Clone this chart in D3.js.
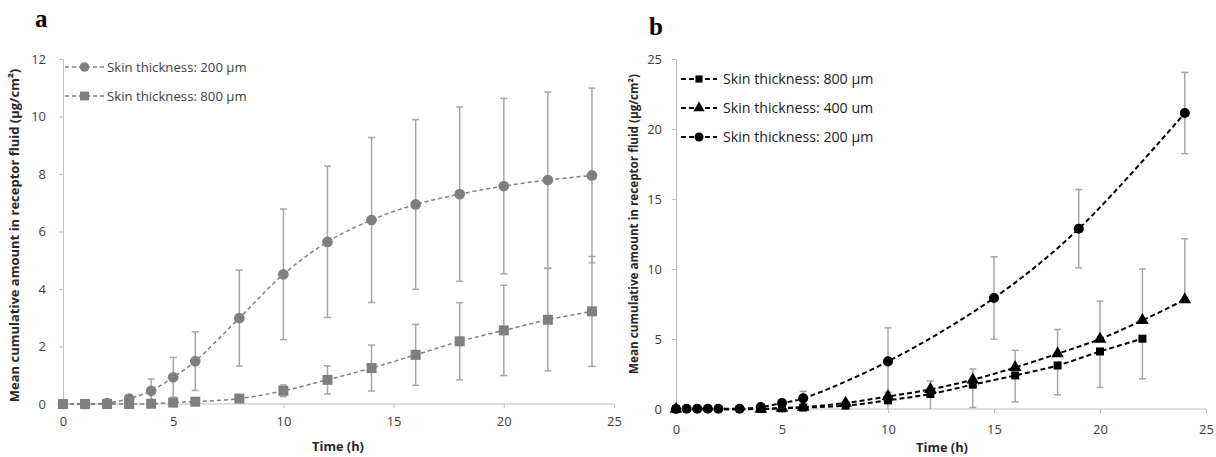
<!DOCTYPE html>
<html>
<head>
<meta charset="utf-8">
<script src="https://cdn.jsdelivr.net/npm/d3@7"></script>
<style>
  body { margin: 0; background: #fff; }
  svg { font-family: "Open Sans", sans-serif; }
</style>
</head>
<body>
<svg id="dessin" width="1216" height="457"></svg>
<script>
// panel a : 200 µm (circles) and 800 µm (squares)
let tempsA200 = [0, 1, 2, 3, 4, 5, 6, 8, 10, 12, 14, 16, 18, 20, 22, 24];
let moyA200 = [0, 0, 0.03, 0.19, 0.46, 0.93, 1.49, 2.99, 4.51, 5.64, 6.40, 6.94, 7.30, 7.58, 7.79, 7.95];
let etA200 = [0, 0, 0, 0.11, 0.41, 0.69, 1.02, 1.67, 2.27, 2.63, 2.87, 2.95, 3.03, 3.05, 3.06, 3.04];

let tempsA800 = [0, 1, 2, 3, 4, 5, 6, 8, 10, 12, 14, 16, 18, 20, 22, 24];
let moyA800 = [0, 0, 0, 0, 0.01, 0.05, 0.08, 0.19, 0.46, 0.84, 1.25, 1.71, 2.18, 2.56, 2.93, 3.22];
let etA800 = [0, 0, 0, 0, 0, 0.02, 0.03, 0.05, 0.2, 0.49, 0.8, 1.06, 1.34, 1.57, 1.78, 1.91];

// panel b : 800, 400, 200 µm
let tempsB800 = [0, 4, 5, 6, 8, 10, 12, 14, 16, 18, 20, 22];
let moyB800 = [0, 0, 0.05, 0.1, 0.24, 0.62, 1.07, 1.74, 2.4, 3.11, 4.11, 5.02];
let etB800 = [0, 0, 0, 0, 0.1, 0.62, 1.07, 1.63, 1.9, 2.09, 2.57, 2.86];

let tempsB400 = [0, 4, 5, 6, 8, 10, 12, 14, 16, 18, 20, 22, 24];
let moyB400 = [0, 0, 0.07, 0.14, 0.43, 0.9, 1.4, 2.09, 2.97, 3.95, 5.0, 6.33, 7.81];
let etB400 = [0, 0, 0, 0, 0.1, 0.3, 0.6, 0.77, 1.22, 1.73, 2.71, 3.67, 4.35];

let tempsB200 = [0, 0.5, 1, 1.5, 2, 3, 4, 5, 6, 10, 15, 19, 24];
let moyB200 = [0, 0.02, 0.02, 0.02, 0.02, 0.02, 0.14, 0.43, 0.76, 3.4, 7.93, 12.88, 21.14];
let etB200 = [0, 0, 0, 0, 0, 0, 0, 0, 0.5, 2.4, 2.94, 2.8, 2.9];

let ticksX = [0, 5, 10, 15, 20, 25];
let ticksYA = [0, 2, 4, 6, 8, 10, 12];
let ticksYB = [0, 5, 10, 15, 20, 25];

let titreY = "Mean cumulative amount in receptor fluid (µg/cm²)";
let titreX = "Time (h)";

const svg = d3.select("#dessin");

function zip(t, m, e) {
  return t.map((d, i) => ({ t: d, m: m[i], e: e[i] }));
}

function panneau(p) {
  const x = d3.scaleLinear().domain([0, 25]).range(p.xr);
  const y = d3.scaleLinear().domain([0, p.ymax]).range(p.yr);
  const g = svg.append("g");

  const axeX = d3.axisBottom(x).tickValues(ticksX).tickSize(4).tickSizeOuter(0).tickPadding(p.padX);
  const axeY = d3.axisLeft(y).tickValues(p.ticksY).tickSize(4).tickSizeOuter(0).tickPadding(p.padY);

  g.append("g").attr("transform", `translate(0,${p.yr[0]})`).call(axeX)
    .call(a => a.select(".domain").remove());
  g.append("line").attr("x1", p.xr[0]).attr("x2", p.xr[1]).attr("y1", p.yr[0]).attr("y2", p.yr[0])
    .style("stroke", "#bfbfbf");
  g.append("g").attr("transform", `translate(${p.xr[0]},0)`).call(axeY);
  g.selectAll(".tick line, .domain").style("stroke", "#bfbfbf");
  g.selectAll(".tick text").style("font-size", "13px").style("fill", "#404040")
    .style("font-family", "Open Sans");

  // axis titles
  g.append("text")
    .attr("transform", `translate(${p.titreYx},${(p.yr[0] + p.yr[1]) / 2 + p.decY}) rotate(-90)`)
    .attr("text-anchor", "middle")
    .style("font-weight", "bold").style("font-size", p.titreFs + "px").style("fill", "#262626")
    .text(titreY);
  g.append("text").attr("x", p.titreXx).attr("y", p.titreXy)
    .attr("text-anchor", "middle")
    .style("font-weight", "bold").style("font-size", "12.8px").style("fill", "#262626")
    .text(titreX);

  g.append("text").attr("x", p.lettre[0]).attr("y", p.lettre[1])
    .style("font-family", "Liberation Serif").style("font-weight", "bold").style("font-size", "25px")
    .text(p.nom);

  const ligne = d3.line().x(d => x(d.t)).y(d => y(d.m)).curve(d3.curveCatmullRom);

  p.series.forEach(s => {
    const pts = zip(s.t, s.m, s.e);
    g.append("path").datum(pts).attr("d", ligne)
      .style("fill", "none").style("stroke", p.couleur)
      .style("stroke-width", p.epaisseur).style("stroke-dasharray", p.tirets);

    const barres = g.append("g").selectAll("g").data(pts.filter(d => d.e > 0)).enter().append("g")
      .style("stroke", "#a6a6a6").style("stroke-width", 1.5);
    const haut = d => y(s.sens === "bas" ? d.m : d.m + d.e);
    const bas = d => y(s.sens === "haut" ? d.m : Math.max(0, d.m - d.e));
    barres.append("line").attr("x1", d => x(d.t)).attr("x2", d => x(d.t)).attr("y1", haut).attr("y2", bas);
    if (s.sens !== "bas") {
      barres.append("line").attr("x1", d => x(d.t) - 3.5).attr("x2", d => x(d.t) + 3.5).attr("y1", haut).attr("y2", haut);
    }
    if (s.sens !== "haut") {
      barres.filter(d => d.m - d.e > 0).append("line")
        .attr("x1", d => x(d.t) - 3.5).attr("x2", d => x(d.t) + 3.5).attr("y1", bas).attr("y2", bas);
    }
  });

  p.series.forEach(s => {
    const sym = d3.symbol().type(s.forme).size(s.taille);
    g.append("g").selectAll("path").data(zip(s.t, s.m, s.e)).enter().append("path")
      .attr("d", sym).attr("transform", d => `translate(${x(d.t)},${y(d.m)})`)
      .style("fill", p.couleur);
  });

  // legend
  p.legende.forEach((s, i) => {
    const ly = p.leg.y0 + i * p.leg.dy;
    g.append("line").attr("x1", p.leg.x0).attr("x2", p.leg.x1).attr("y1", ly).attr("y2", ly)
      .style("stroke", p.couleur).style("stroke-width", p.epaisseur).style("stroke-dasharray", p.tirets);
    g.append("path").attr("d", d3.symbol().type(s.forme).size(s.taille * 0.8))
      .attr("transform", `translate(${(p.leg.x0 + p.leg.x1) / 2},${ly})`).style("fill", p.couleur);
    g.append("text").attr("x", p.leg.xt).attr("y", ly).attr("dy", "0.35em")
      .style("font-size", p.leg.fs + "px").style("fill", p.leg.couleurTexte)
      .text(s.nom);
  });
}

const sA200 = { t: tempsA200, m: moyA200, e: etA200, forme: d3.symbolCircle, taille: 90, sens: "deux", nom: "Skin thickness: 200 µm" };
const sA800 = { t: tempsA800, m: moyA800, e: etA800, forme: d3.symbolSquare, taille: 100, sens: "deux", nom: "Skin thickness: 800 µm" };

panneau({
  nom: "a", lettre: [35, 27],
  xr: [63, 614], yr: [404, 59], ymax: 12, ticksY: ticksYA, padY: 13, padX: 9,
  titreYx: 19, titreFs: 13, decY: 4, titreXx: 338, titreXy: 451,
  couleur: "#7f7f7f", epaisseur: 1.5, tirets: "4,3",
  series: [sA200, sA800],
  legende: [sA200, sA800],
  leg: { x0: 65, x1: 104, xt: 107, y0: 67, dy: 29, fs: 13.2, couleurTexte: "#404040" }
});

const sB800 = { t: tempsB800, m: moyB800, e: etB800, forme: d3.symbolSquare, taille: 64, sens: "bas", nom: "Skin thickness: 800 µm" };
const sB400 = { t: tempsB400, m: moyB400, e: etB400, forme: d3.symbolTriangle, taille: 70, sens: "haut", nom: "Skin thickness: 400 um" };
const sB200 = { t: tempsB200, m: moyB200, e: etB200, forme: d3.symbolCircle, taille: 80, sens: "deux", nom: "Skin thickness: 200 µm" };

panneau({
  nom: "b", lettre: [649, 35],
  xr: [676, 1206], yr: [409, 59], ymax: 25, ticksY: ticksYB, padY: 10, padX: 12,
  titreYx: 638, titreFs: 11.7, decY: -10, titreXx: 942, titreXy: 452,
  couleur: "#000", epaisseur: 2, tirets: "5,3",
  series: [sB800, sB400, sB200],
  legende: [sB800, sB400, sB200],
  leg: { x0: 681, x1: 717, xt: 723, y0: 79, dy: 29, fs: 14.2, couleurTexte: "#1a1a1a" }
});
</script>
</body>
</html>
